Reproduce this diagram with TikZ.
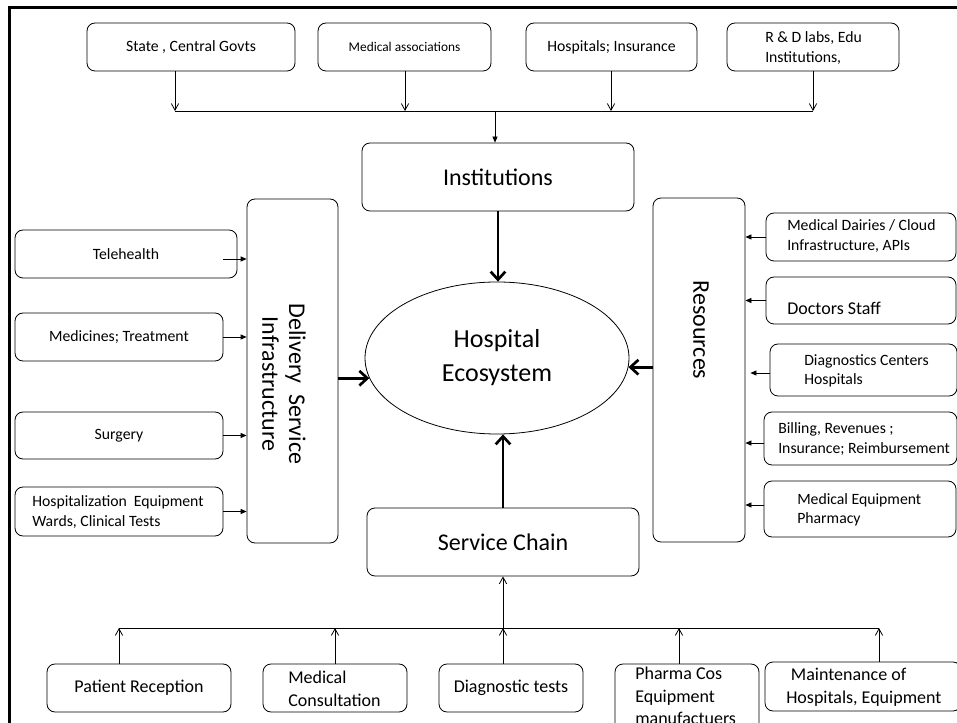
\documentclass[tikz,border=0pt]{standalone}
\usepackage{fontspec}
\setmainfont{Carlito}
\usetikzlibrary{arrows.meta,shapes.geometric}
\begin{document}
\begin{tikzpicture}[x=0.75pt,y=-0.75pt,
  box/.style={draw, rounded corners=6pt, line width=0.6pt, inner sep=0pt},
  txt/.style={inner sep=0pt, align=left},
  sm/.style={font=\fontsize{11.8}{14.6}\selectfont},
  xs/.style={font=\fontsize{10}{12}\selectfont},
  md/.style={font=\fontsize{13.5}{17}\selectfont},
  lg/.style={font=\fontsize{18}{20}\selectfont},
  conn/.style={line width=0.6pt},
  barb/.style={conn, -{Straight Barb[length=5pt,width=5.5pt]}},
  tri/.style={conn, -{Triangle[length=4.5pt,width=3.8pt]}},
  bigarr/.style={line width=2pt, -{Straight Barb[length=6pt,width=11pt]}},
]
\useasboundingbox (0,0) rectangle (957,723);
\draw[line width=2.25pt] (9,723) -- (9,8) -- (957,8);

% top row
\node[box, minimum width=156pt, minimum height=36pt, sm] (st) at (191,47) {State , Central Govts};
\node[box, minimum width=129.75pt, minimum height=36pt, xs] (ma) at (404.5,47) {Medical associations};
\node[box, minimum width=128.25pt, minimum height=36pt, sm] (hi) at (611.5,47) {Hospitals; Insurance};
\node[box, minimum width=129pt, minimum height=36pt] (rd) at (813,47) {};
\node[txt, sm, anchor=west] (rdt) at (765,48) {R \& D labs, Edu\\Institutions,};

\coordinate (b1) at (175,111);
\coordinate (b2) at (405,111);
\coordinate (b3) at (611,111);
\coordinate (b4) at (813,111);
\coordinate (bj) at (495,111);
\draw[barb] (st.south -| b1) -- (b1);
\draw[barb] (ma.south -| b2) -- (b2);
\draw[barb] (hi.south -| b3) -- (b3);
\draw[barb] (rd.south -| b4) -- (b4);
\draw[conn] (b1) -- (b4);

% center
\node[box, minimum width=204pt, minimum height=51pt, lg] (inst) at (498,177) {Institutions};
\draw[tri] (bj) -- (inst.north -| bj);

\node[draw, ellipse, line width=0.6pt, minimum width=198pt, minimum height=114pt, inner sep=0pt, align=center, font=\fontsize{19.5}{25.5}\selectfont] (eco) at (497,358) {Hospital\\Ecosystem};

\node[box, minimum width=68.25pt, minimum height=258pt] (del) at (292.5,371) {};
\node[txt, lg, rotate=-90, align=center] (delt) at (284,384) {Delivery\ \ Service\\Infrastructure};

\node[box, minimum width=69pt, minimum height=258pt] (res) at (699,370) {};
\node[txt, lg, rotate=-90] (rest) at (701,330) {Resources};

\node[box, minimum width=204pt, minimum height=51pt, lg] (sc) at (503,542) {Service Chain};

\draw[bigarr] (inst.south) -- (inst.south |- eco.north);
\draw[bigarr] (del.east |- eco.189) -- (eco.189);
\draw[bigarr] (res.west |- eco.356) -- (eco.356);
\draw[bigarr] (sc.north) -- (sc.north |- eco.south);

% left column
\node[box, minimum width=166.5pt, minimum height=36pt, sm] (tele) at (126,254) {Telehealth};
\node[box, minimum width=156pt, minimum height=36pt, sm] (medi) at (119,337) {Medicines; Treatment};
\node[box, minimum width=156pt, minimum height=35.25pt, sm] (surg) at (119,435.5) {Surgery};
\node[box, minimum width=156pt, minimum height=36.75pt] (hosp) at (119,511.5) {};
\node[txt, sm, anchor=west] (hospt) at (32,512) {Hospitalization\ \ Equipment\\Wards, Clinical Tests};

\coordinate (t0) at (223,259);
\draw[tri] (t0) -- (del.west |- t0);
\draw[tri] (medi.east) -- (medi.east -| del.west);
\draw[tri] (surg.east) -- (surg.east -| del.west);
\draw[tri] (hosp.east) -- (hosp.east -| del.west);

% right column
\node[box, minimum width=142.5pt, minimum height=36pt] (mdc) at (861,237) {};
\node[txt, sm, anchor=west] (mdct) at (787,236) {Medical Dairies / Cloud\\Infrastructure, APIs};
\node[box, minimum width=142.5pt, minimum height=35.25pt] (doc) at (861,300.5) {};
\node[txt, md, anchor=west] (doct) at (787,308) {Doctors Staff};
\node[box, minimum width=140.25pt, minimum height=39pt] (diag) at (863.5,370) {};
\node[txt, sm, anchor=west] (diagt) at (804,371) {Diagnostics Centers\\Hospitals};
\node[box, minimum width=144.75pt, minimum height=39.75pt] (bill) at (860.5,438.5) {};
\node[txt, sm, anchor=west] (billt) at (778,439) {Billing, Revenues ;\\Insurance; Reimbursement};
\node[box, minimum width=144pt, minimum height=42pt] (meq) at (860,509) {};
\node[txt, sm, anchor=west] (meqt) at (797,510) {Medical Equipment\\Pharmacy};

\draw[tri] (mdc.west) -- (mdc.west -| res.east);
\draw[tri] (doc.west) -- (doc.west -| res.east);
\draw[tri] ([yshift=-2.25pt]diag.west) -- ([yshift=-2.25pt,xshift=3.75pt]diag.west -| res.east);
\draw[tri] ([yshift=-3.4pt]bill.west) -- ([yshift=-3.4pt]bill.west -| res.east);
\draw[tri] ([yshift=3pt]meq.west) -- ([yshift=3pt]meq.west -| res.east);

% bottom row
\node[box, minimum width=138pt, minimum height=36pt, md] (pr) at (139,688) {Patient Reception};
\node[box, minimum width=108pt, minimum height=36pt] (mc) at (335,688) {};
\node[txt, md, anchor=west] (mct) at (288,689) {Medical\\Consultation};
\node[box, minimum width=108pt, minimum height=36pt, md] (dt) at (511,688) {Diagnostic tests};
\node[box, minimum width=108pt, minimum height=57pt] (ph) at (687,702) {};
\node[txt, md, anchor=west] (pht) at (635,696) {Pharma Cos\\Equipment\\manufactuers};
\node[box, minimum width=147pt, minimum height=36.75pt] (mt) at (863,686.5) {};
\node[txt, md, anchor=west] (mtt) at (786,687) {\hspace*{3.5pt}Maintenance of\\Hospitals, Equipment};

\coordinate (c1) at (119,628);
\coordinate (c2) at (335,628);
\coordinate (c3) at (503,628);
\coordinate (c4) at (679,628);
\coordinate (c5) at (879,628);
\draw[barb] (pr.north -| c1) -- (c1);
\draw[barb] (mc.north -| c2) -- (c2);
\draw[barb] (dt.north -| c3) -- (c3);
\draw[barb] (ph.north -| c4) -- (c4);
\draw[barb] (mt.north -| c5) -- (c5);
\draw[conn] (c1) -- (c5);
\draw[barb] (c3) -- (sc.south -| c3);
\end{tikzpicture}
\end{document}
